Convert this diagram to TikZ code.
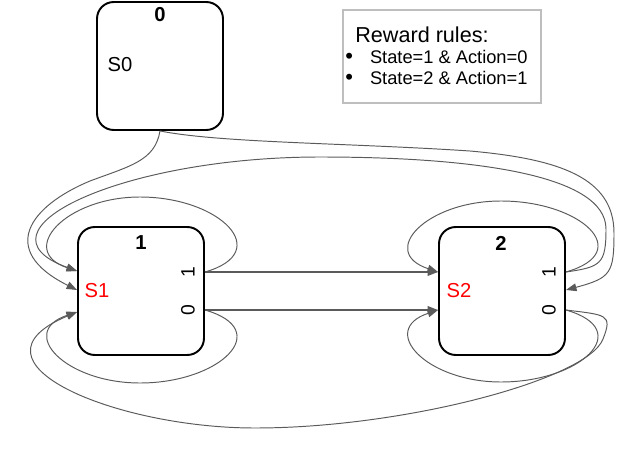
\documentclass[tikz,border=0pt]{standalone}
\usepackage{fontspec}
\setmainfont{Liberation Sans}
\usetikzlibrary{arrows.meta, calc}
\definecolor{wireGray}{RGB}{90,90,90}
\definecolor{ruleGray}{RGB}{190,190,190}
\definecolor{labelRed}{RGB}{255,0,0}
\newcommand{\rulebullet}{{\fontsize{12.5}{12}\selectfont\textbullet}}

\begin{document}
\begin{tikzpicture}[
    x=0.02cm, y=0.02cm,
    >={Triangle[length=6pt,width=4.4pt]},
    stbox/.style={rectangle, rounded corners=9.5pt, draw=black, line width=1.1pt, minimum width=2.52cm, minimum height=2.56cm, inner sep=0pt},
    rulebox/.style={rectangle, draw=ruleGray, line width=0.9pt, minimum width=3.96cm, minimum height=1.86cm, inner sep=0pt},
    ruletext/.style={anchor=west, inner sep=0pt, font=\fontsize{10.4}{12.2}\selectfont},
    numlbl/.style={font=\fontsize{11.5}{12}\selectfont\bfseries, inner sep=0pt},
    slbl/.style={font=\fontsize{11.5}{12}\selectfont, inner sep=0pt},
    portlbl/.style={font=\fontsize{11}{12}\selectfont, rotate=90, inner sep=0pt},
    wire/.style={->, wireGray, line width=0.55pt},
    link/.style={->, wireGray, line width=0.9pt}
]
    \useasboundingbox (0,0) rectangle (640,461);
 
    \node[stbox] (s0) at (160,395) {};
    \node[numlbl] (s0_num) at (160,446) {0};
    \node[slbl] (s0_lbl) at (120,396) {S0};
    \coordinate (s0_out) at (s0.south);
 
    \node[rulebox] (rules) at (442,404.5) {};
    \node[ruletext, font=\fontsize{12.3}{13}\selectfont] (rules_title) at (355,426) {Reward rules:};
    \node[ruletext] (rules_a) at (345,404) {\rulebullet\hspace{0.34cm}State=1 \& Action=0};
    \node[ruletext] (rules_b) at (345,383) {\rulebullet\hspace{0.34cm}State=2 \& Action=1};
 
    \node[stbox] (s1) at (141,170) {};
    \node[numlbl] (s1_num) at (141,218) {1};
    \node[slbl, labelRed] (s1_lbl) at (97,170) {S1};
    \node[portlbl] (s1_p1) at (188,189) {1};
    \node[portlbl] (s1_p0) at (188,151) {0};
    \coordinate (s1_out1) at ($(s1.east)+(0,19)$);
    \coordinate (s1_out0) at ($(s1.east)+(0,-19)$);
    \coordinate (s1_intop) at ($(s1.west)+(0,20)$);
    \coordinate (s1_inmid) at ($(s1.west)+(0,1)$);
    \coordinate (s1_inbot) at ($(s1.west)+(0,-21)$);
 
    \node[stbox] (s2) at (502,170) {};
    \node[numlbl] (s2_num) at (501,218) {2};
    \node[slbl, labelRed] (s2_lbl) at (459,170) {S2};
    \node[portlbl] (s2_p1) at (549,189) {1};
    \node[portlbl] (s2_p0) at (549,151) {0};
    \coordinate (s2_out1) at ($(s2.east)+(0,19)$);
    \coordinate (s2_out0) at ($(s2.east)+(0,-19)$);
    \coordinate (s2_intop) at ($(s2.west)+(0,19)$);
    \coordinate (s2_inbot) at ($(s2.west)+(0,-19)$);
    \coordinate (s2_inright) at ($(s2.east)+(0,1)$);
 
    \draw[link] (s1_out1) -- (s2_intop);
    \draw[link] (s1_out0) -- (s2_inbot);
 
    \draw[wire] (s1_out1) .. controls +(70,20) and +(80,0) .. (140,264) .. controls +(-75,0) and +(-60,20) .. (s1_intop);
    \draw[wire] (s1_out0) .. controls +(70,-20) and +(80,0) .. (140,78) .. controls +(-75,0) and +(-60,-20) .. (s1_inbot);
    \draw[wire] (s2_out1) .. controls +(70,20) and +(80,0) .. (501,260) .. controls +(-75,0) and +(-60,20) .. (s2_intop);
    \draw[wire] (s2_out0) .. controls +(70,-20) and +(80,0) .. (501,79) .. controls +(-75,0) and +(-60,-20) .. (s2_inbot);
 
    \draw[wire] (s0_out) .. controls +(-5,-30) and +(40,15) .. (90,280) .. controls +(-60,-25) and +(-80,40) .. (s1_inmid);
    \draw[wire] (s0_out) .. controls +(60,-12) and +(-120,8) .. (470,310) .. controls +(90,-8) and +(0,55) .. (614,228)
        .. controls +(0,-40) and +(45,12) .. (s2_inright);
 
    \draw[wire] (s2_out1) .. controls +(35,5) and +(0,-35) .. (606,232) .. controls +(0,55) and +(150,0) .. (320,304)
        .. controls +(-200,0) and +(-110,40) .. (s1_intop);
    \draw[wire] (s2_out0) .. controls +(40,-5) and +(10,25) .. (603,122) .. controls +(-15,-40) and +(150,0) .. (255,33)
        .. controls +(-140,0) and +(-120,-50) .. (s1_inbot);
\end{tikzpicture}
\end{document}
